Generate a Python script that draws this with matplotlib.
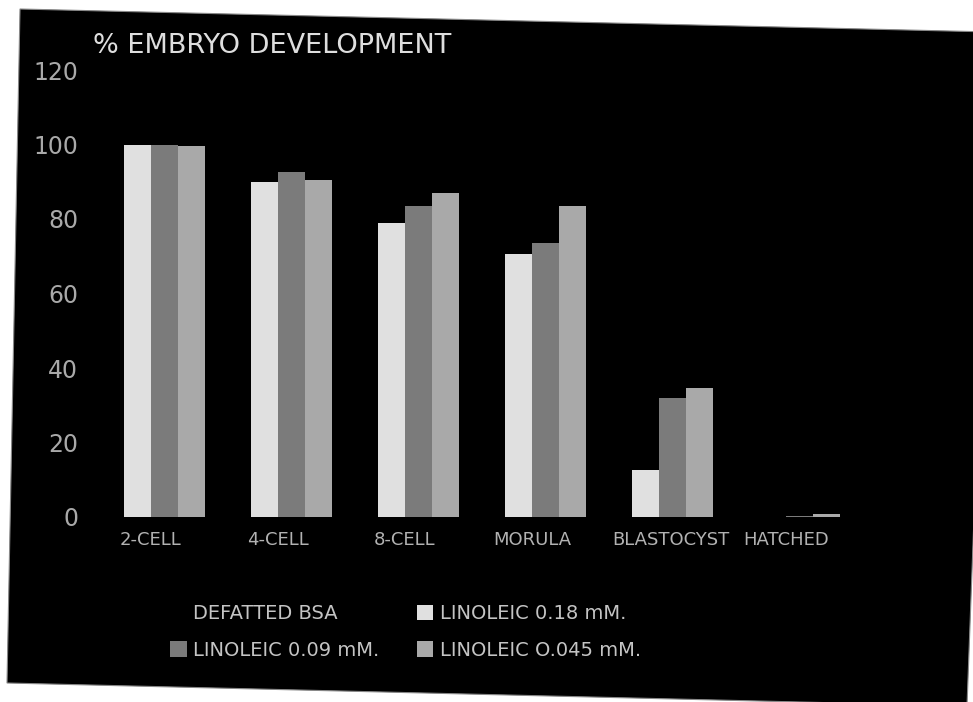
import matplotlib
matplotlib.use("Agg")
import matplotlib.pyplot as plt
import matplotlib.transforms as mtransforms
from matplotlib.patches import Patch, Polygon
import numpy as np

# % embryo development by stage
stages = ["2-CELL", "4-CELL", "8-CELL", "MORULA", "BLASTOCYST", "HATCHED"]
linoleic_018 = [100, 90, 79, 70.5, 12.5, 0]
linoleic_009 = [100, 92.5, 83.5, 73.5, 32, 0.3]
linoleic_0045 = [99.5, 90.5, 87, 83.5, 34.5, 0.9]
series_names = ["DEFATTED BSA", "LINOLEIC 0.18 mM.", "LINOLEIC 0.09 mM.", "LINOLEIC O.045 mM."]
y_ticks = [0, 20, 40, 60, 80, 100, 120]

W, H = 973, 702
fig = plt.figure(figsize=(W / 100, H / 100), dpi=100)
fig.patch.set_facecolor("white")

# slide background, slightly skewed on the page
corners = [(20, 9), (992, 32), (967, 706), (7, 683)]
fig.patches.append(Polygon([(x / W, 1 - y / H) for x, y in corners], closed=True,
                           transform=fig.transFigure, facecolor="black",
                           edgecolor="#888888", linewidth=0.8, zorder=-10))

ax = fig.add_axes([88 / W, 1 - 517 / H, (862 - 88) / W, (517 - 70) / H])
ax.set_facecolor("none")
ax.set_zorder(1)
for s in ax.spines.values():
    s.set_visible(False)

colors = {"bsa": "black", "light": "#e0e0e0", "dark": "#7b7b7b", "medium": "#a9a9a9"}
x = np.arange(len(stages))
w = 0.213
# four slots per group; the first (defatted BSA) is black on black
ax.bar(x - 0.5 * w, linoleic_018, w, color=colors["light"], linewidth=0)
ax.bar(x + 0.5 * w, linoleic_009, w, color=colors["dark"], linewidth=0)
ax.bar(x + 1.5 * w, linoleic_0045, w, color=colors["medium"], linewidth=0)

ax.set_xlim(-0.496, 5.6)
ax.set_ylim(0, 120)
ax.set_yticks(y_ticks)
ax.set_xticks(x)
ax.set_xticklabels(stages)
ax.tick_params(axis="y", length=0, pad=7, labelsize=17, labelcolor="#a9a9a9")
ax.tick_params(axis="x", length=0, pad=10, labelsize=13, labelcolor="#b2b2b2")

# long label nudged right, away from its neighbour
lbl = ax.get_xticklabels()[4]
lbl.set_transform(lbl.get_transform() +
                  mtransforms.ScaledTranslation(12 / 100, 0, fig.dpi_scale_trans))

fig.text(93 / W, 1 - 53 / H, "% EMBRYO DEVELOPMENT", fontsize=19.5,
         color="#dedede", va="baseline", ha="left", zorder=2)

handles = [Patch(facecolor=colors["bsa"]), Patch(facecolor=colors["dark"]),
           Patch(facecolor=colors["light"]), Patch(facecolor=colors["medium"])]
labels = [series_names[0], series_names[2], series_names[1], series_names[3]]
leg = fig.legend(handles, labels, ncol=2, loc="upper left",
                 bbox_to_anchor=(170 / W, 1 - 604 / H), frameon=False,
                 fontsize=14, handlelength=0.85, handleheight=0.85,
                 handletextpad=0.35, columnspacing=1.9, labelspacing=0.9,
                 borderpad=0, borderaxespad=0)
leg.set_zorder(2)
for t in leg.get_texts():
    t.set_color("#c4c4c4")

fig.savefig("out.png", dpi=100, facecolor=fig.get_facecolor())
